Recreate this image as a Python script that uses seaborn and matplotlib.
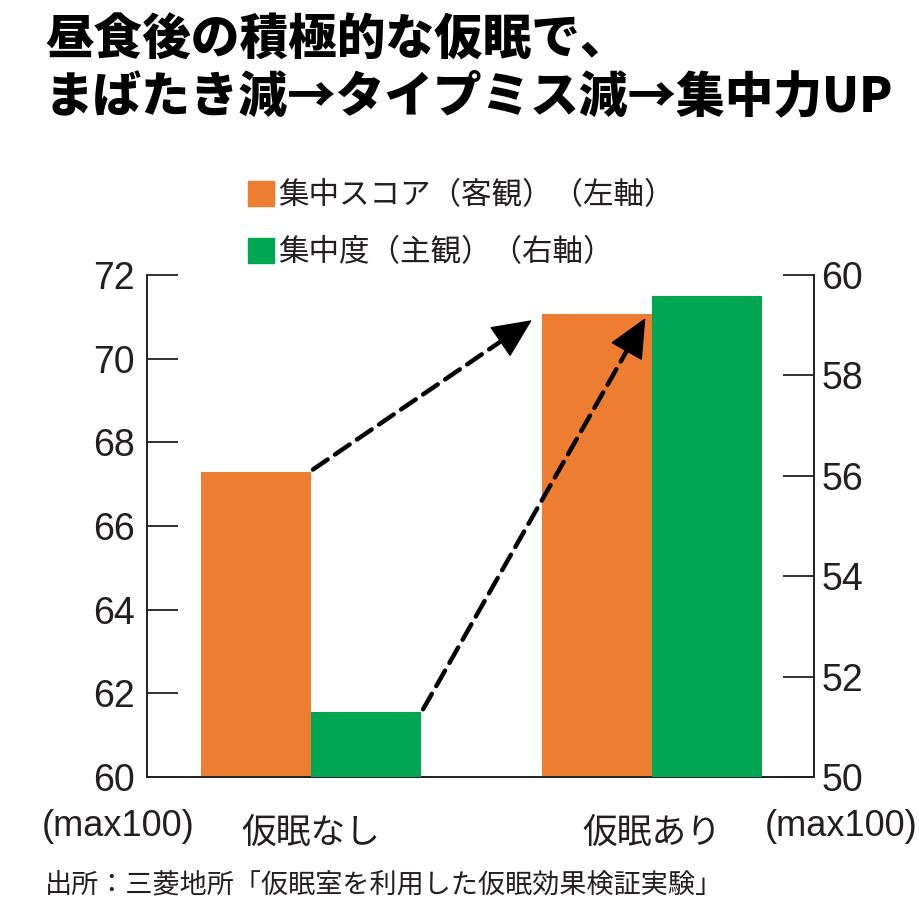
import numpy as np
import pandas as pd
import seaborn as sns
import matplotlib
import matplotlib.pyplot as plt
from matplotlib.patches import Patch

matplotlib.use('Agg')

# データ
categories = ['仮眠なし', '仮眠あり']
score_label = '集中スコア（客観）（左軸）'
degree_label = '集中度（主観）（右軸）'
score_values = [67.3, 71.07]   # 左軸
degree_values = [51.3, 59.58]  # 右軸
left_ticks = [60, 62, 64, 66, 68, 70, 72]
right_ticks = [50, 52, 54, 56, 58, 60]

ORANGE = '#ED7D31'
GREEN = '#00A651'
TXT = '#231f20'

sns.set_style('white')
plt.rcParams['font.family'] = ['Noto Sans CJK JP', 'DejaVu Sans']
NUM_FONT = ['Liberation Sans Narrow', 'Liberation Sans', 'DejaVu Sans']

df = pd.DataFrame({
    '条件': categories * 2,
    '系列': [score_label] * 2 + [degree_label] * 2,
    '値': score_values + degree_values,
})
hue_order = [score_label, degree_label]
pal = {score_label: ORANGE, degree_label: GREEN}
bw = 0.646  # 2本分の幅

fig = plt.figure(figsize=(9.2, 9.07), dpi=100)
ax = fig.add_axes([0.160, 0.1433, 0.725, 0.5535])

sns.barplot(data=df[df['系列'] == score_label], x='条件', y='値', hue='系列',
            hue_order=hue_order, palette=pal, order=categories, width=bw,
            dodge=True, errorbar=None, legend=False, ax=ax, saturation=1,
            linewidth=0)
ax2 = ax.twinx()
sns.barplot(data=df[df['系列'] == degree_label], x='条件', y='値', hue='系列',
            hue_order=hue_order, palette=pal, order=categories, width=bw,
            dodge=True, errorbar=None, legend=False, ax=ax2, saturation=1,
            linewidth=0)

ax.set_ylim(60, 72)
ax2.set_ylim(50, 60)
ax.set_xlim(-0.481, 1.475)
ax.set_yticks(left_ticks)
ax2.set_yticks(right_ticks)
ax.set_xlabel('')
ax.set_ylabel('')
ax2.set_ylabel('')
ax2.set_xlabel('')

for s in ['top', 'right']:
    ax.spines[s].set_visible(False)
for s in ['top', 'left', 'bottom']:
    ax2.spines[s].set_visible(False)
for a in (ax, ax2):
    for s in a.spines.values():
        s.set_color('#222222')
        s.set_linewidth(1.4)

ax.tick_params(axis='y', direction='in', length=22, width=1.3, pad=9,
               labelsize=27, colors=TXT)
ax2.tick_params(axis='y', direction='in', length=22, width=1.3, pad=5,
                labelsize=27, colors=TXT)
ax.tick_params(axis='x', direction='out', length=23, width=1.3, pad=5,
               labelsize=25, colors=TXT)
for lab in ax.get_yticklabels() + ax2.get_yticklabels():
    lab.set_family(NUM_FONT)

# 矢印（破線＋実線の矢じり）
half = bw / 2


def head_only(start, start_tr, end, end_tr):
    # 終点付近の短い区間に実線の矢じりを付ける
    s = np.array(start_tr.transform(start))
    e = np.array(end_tr.transform(end))
    d = (e - s) / np.linalg.norm(e - s)
    back = e - d * 20
    ax2.annotate('', xy=tuple(e), xycoords='figure pixels',
                 xytext=tuple(back), textcoords='figure pixels',
                 arrowprops=dict(arrowstyle='-|>,head_length=1.3,head_width=0.6',
                                 color='black', lw=1, mutation_scale=20,
                                 shrinkA=0, shrinkB=0))


fig.canvas.draw()
a1 = ((0.005, score_values[0] + 0.05), ax.transData,
      (1 - half - 0.03, score_values[1] - 0.15), ax.transData)
a2 = ((half + 0.005, degree_values[0] + 0.05), ax2.transData,
      (1 - 0.02, score_values[1] - 0.1), ax.transData)
for st, st_tr, en, en_tr in (a1, a2):
    line = dict(arrowstyle='-', color='black', lw=3.2, linestyle=(0, (4, 2)),
                shrinkA=0, shrinkB=0)
    ax2.annotate('', xy=en, xycoords=en_tr, xytext=st, textcoords=st_tr,
                 arrowprops=line)
    head_only(st, st_tr, en, en_tr)

# 凡例
fig.legend(handles=[Patch(color=ORANGE), Patch(color=GREEN)],
           labels=[score_label, degree_label], loc='upper left',
           bbox_to_anchor=(248 / 920, 1 - 180 / 907), frameon=False,
           fontsize=22, handlelength=0.85, handleheight=0.85,
           handletextpad=0.15, labelspacing=0.85, borderpad=0,
           borderaxespad=0, labelcolor=TXT)

# タイトル
fig.text(45 / 920, 1 - 16 / 907, '昼食後の積極的な仮眠で、\nまばたき減→タイプミス減→集中力UP',
         ha='left', va='top', fontsize=35, fontweight='black', color='black',
         linespacing=1.22)

fig.text(42 / 920, 1 - 827 / 907, '(max100)', ha='left', va='center',
         fontsize=26, family=NUM_FONT, color=TXT)
fig.text(765 / 920, 1 - 827 / 907, '(max100)', ha='left', va='center',
         fontsize=26, family=NUM_FONT, color=TXT)
fig.text(45 / 920, 1 - 885 / 907, '出所：三菱地所「仮眠室を利用した仮眠効果検証実験」',
         ha='left', va='center', fontsize=19.5, color=TXT)

fig.savefig('out.png', dpi=100)
